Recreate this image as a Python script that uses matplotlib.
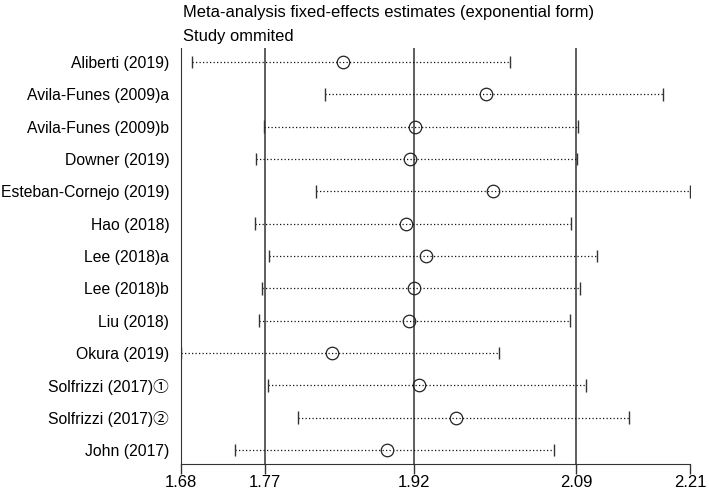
import matplotlib
matplotlib.use("Agg")
import matplotlib.pyplot as plt

# studies (top to bottom), estimate with one study omitted and its 95% CI
studies = ["Aliberti (2019)", "Avila-Funes (2009)a", "Avila-Funes (2009)b",
           "Downer (2019)", "Esteban-Cornejo (2019)", "Hao (2018)",
           "Lee (2018)a", "Lee (2018)b", "Liu (2018)", "Okura (2019)",
           "Solfrizzi (2017)\u2460", "Solfrizzi (2017)\u2461", "John (2017)"]
est = [1.849, 1.997, 1.923, 1.918, 2.005, 1.914, 1.935, 1.922, 1.917,
       1.837, 1.928, 1.966, 1.894]
lower = [1.691, 1.830, 1.766, 1.758, 1.820, 1.757, 1.772, 1.764, 1.761,
         1.680, 1.770, 1.802, 1.736]
upper = [2.022, 2.181, 2.093, 2.092, 2.210, 2.086, 2.113, 2.095, 2.085,
         2.011, 2.101, 2.146, 2.068]

# overall estimate + CI (reference lines)
overall = [1.767, 1.9225, 2.091]
tick_vals = [1.68, 1.767, 1.9225, 2.091, 2.21]
tick_labels = ["1.68", "1.77", "1.92", "2.09", "2.21"]

fams = ["Liberation Sans", "Noto Sans CJK SC", "DejaVu Sans"]
plt.rcParams["font.family"] = fams

fig = plt.figure(figsize=(7.09, 4.92), dpi=100)
ax = fig.add_axes([181 / 709, 1 - 464 / 492, (690.5 - 181) / 709, 416 / 492])

n = len(studies)
ys = list(range(n))

for x in overall:
    ax.axvline(x, color="#333333", lw=1.1, zorder=1)

for i in range(n):
    ax.plot([lower[i], upper[i]], [ys[i], ys[i]], color="#111111", lw=0.9,
            linestyle=(0, (1, 1.8)), zorder=2)
ax.errorbar(lower, ys, yerr=0.2, fmt="none", ecolor="#333333", elinewidth=1.0, zorder=3)
ax.errorbar(upper, ys, yerr=0.2, fmt="none", ecolor="#333333", elinewidth=1.0, zorder=3)
ax.plot(est, ys, "o", ms=9, mfc="none", mec="#222222", mew=0.9, zorder=4)

ax.set_xlim(tick_vals[0], tick_vals[-1])
ax.set_ylim(n - 1 + 0.433, -0.433)
ax.set_yticks(ys)
ax.set_yticklabels(studies, fontsize=11.3)
ax.tick_params(axis="y", length=0, pad=8.5)
ax.set_xticks(tick_vals)
ax.set_xticklabels(tick_labels, fontsize=12)
ax.tick_params(axis="x", length=7, width=1, color="#333333", pad=1)

for s in ["top", "right"]:
    ax.spines[s].set_visible(False)
ax.spines["left"].set_color("#333333")
ax.spines["bottom"].set_color("#333333")

fig.text(183 / 709, 1 - 13 / 492, "Meta-analysis fixed-effects estimates (exponential form)",
         fontsize=11.9, va="center", ha="left")
fig.text(183 / 709, 1 - 37 / 492, "Study ommited", fontsize=11.9, va="center", ha="left")

fig.savefig("out.png", dpi=100)
